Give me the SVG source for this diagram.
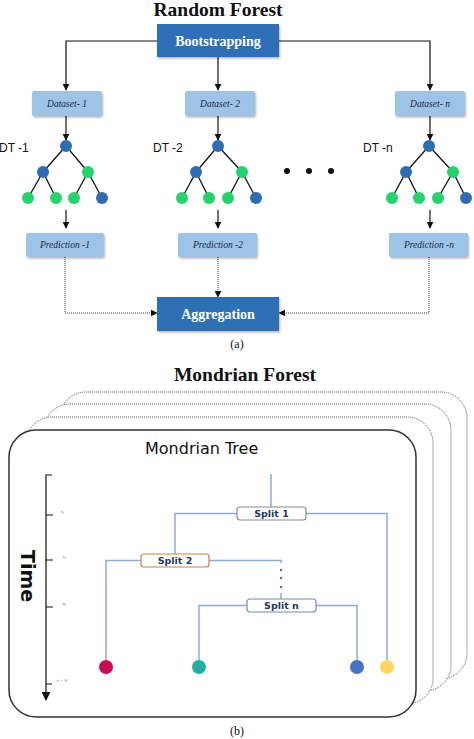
<svg xmlns="http://www.w3.org/2000/svg" width="474" height="739" viewBox="0 0 474 739">
<style>
.title{font-family:"Liberation Serif",serif;font-weight:bold;font-size:19.5px;fill:#111}
.bigbox{fill:#2f6fb6}
.bigtxt{font-family:"Liberation Serif",serif;font-weight:bold;font-size:14px;fill:#fff}
.lbox{fill:#9dc3e6}
.ltxt{font-family:"Liberation Serif",serif;font-style:italic;font-size:9.5px;fill:#1a2a40}
.dt{font-family:"Liberation Sans",Arial,sans-serif;font-size:12px;fill:#111}
.e{stroke:#111;stroke-width:1.3}
.nb{fill:#2e6db3}
.ng{fill:#22d46a}
.ln{stroke:#111;stroke-width:1.2;fill:none}
.dot{stroke:#333;stroke-width:1;stroke-dasharray:1 1;fill:none}
.card{fill:#fff;stroke:#555;stroke-width:1;stroke-dasharray:1 1}
.bl{stroke:#8eaadb;stroke-width:1.5;fill:none}
.split{font-family:"DejaVu Sans",Verdana,sans-serif;font-weight:bold;font-size:9.5px;fill:#1f3864}
.cap{font-family:"Liberation Serif",serif;font-size:12px;fill:#111}
.tk{font-family:"Liberation Serif",serif;font-style:italic;font-size:5px;fill:#555}
</style>
<defs>
<marker id="ar" viewBox="0 0 10 10" refX="9" refY="5" markerWidth="7" markerHeight="7" orient="auto" markerUnits="userSpaceOnUse"><path d="M0,0L10,5L0,10z" fill="#111"/></marker>
<marker id="ar2" viewBox="0 0 10 10" refX="9" refY="5" markerWidth="9" markerHeight="9" orient="auto" markerUnits="userSpaceOnUse"><path d="M0,0L10,5L0,10z" fill="#111"/></marker>
<filter id="sh" x="-10%" y="-10%" width="130%" height="140%"><feDropShadow dx="1" dy="1.5" stdDeviation="1" flood-color="#000" flood-opacity="0.3"/></filter>
</defs>
<rect width="474" height="739" fill="#fff"/>

<text class="title" x="218" y="16" text-anchor="middle">Random Forest</text>

<g id="connectors-a">
<path class="ln" d="M157,41H66V90" marker-end="url(#ar)"/>
<path class="ln" d="M218,57V90" marker-end="url(#ar)"/>
<path class="ln" d="M279,41H430V90" marker-end="url(#ar)"/>
<path class="ln" d="M66,116V140" marker-end="url(#ar)"/>
<path class="ln" d="M218,116V140" marker-end="url(#ar)"/>
<path class="ln" d="M430,116V140" marker-end="url(#ar)"/>
<path class="ln" d="M66,210V228" marker-end="url(#ar)"/>
<path class="ln" d="M218,210V228" marker-end="url(#ar)"/>
<path class="ln" d="M430,210V228" marker-end="url(#ar)"/>
<path class="dot" d="M65,257V313H157" marker-end="url(#ar)"/>
<path class="dot" d="M218,257V297" marker-end="url(#ar)"/>
<path class="dot" d="M429,257V313H279" marker-end="url(#ar)"/>
</g>

<g id="bootstrapping"><rect class="bigbox" x="157" y="24" width="122" height="33" filter="url(#sh)"/><text class="bigtxt" x="218" y="46" text-anchor="middle">Bootstrapping</text></g>

<g id="dataset-1"><rect class="lbox" x="32" y="91" width="70" height="25" rx="2" filter="url(#sh)"/><text class="ltxt" x="67" y="107" text-anchor="middle">Dataset- 1</text></g>
<g id="dataset-2"><rect class="lbox" x="185" y="91" width="70" height="25" rx="2" filter="url(#sh)"/><text class="ltxt" x="220" y="107" text-anchor="middle">Dataset- 2</text></g>
<g id="dataset-n"><rect class="lbox" x="395" y="91" width="70" height="25" rx="2" filter="url(#sh)"/><text class="ltxt" x="430" y="107" text-anchor="middle">Dataset- n</text></g>

<g id="tree-1">
<text class="dt" x="-1" y="152">DT -1</text>
<path class="e" d="M66,146L43,172M66,146L88,172M43,172L28,198M43,172L56,198M88,172L74,198M88,172L102,198"/>
<circle class="nb" cx="66" cy="146" r="6"/><circle class="nb" cx="43" cy="172" r="6"/><circle class="ng" cx="88" cy="172" r="6"/>
<circle class="ng" cx="28" cy="198" r="6"/><circle class="ng" cx="56" cy="198" r="6"/><circle class="ng" cx="74" cy="198" r="6"/><circle class="nb" cx="102" cy="198" r="6"/>
</g>
<g id="tree-2">
<text class="dt" x="153" y="152">DT -2</text>
<path class="e" d="M218,146L196,172M218,146L242,172M196,172L182,198M196,172L209,198M242,172L228,198M242,172L256,198"/>
<circle class="nb" cx="218" cy="146" r="6"/><circle class="nb" cx="196" cy="172" r="6"/><circle class="ng" cx="242" cy="172" r="6"/>
<circle class="ng" cx="182" cy="198" r="6"/><circle class="ng" cx="209" cy="198" r="6"/><circle class="ng" cx="228" cy="198" r="6"/><circle class="nb" cx="256" cy="198" r="6"/>
</g>
<g id="ellipsis"><circle cx="287" cy="171" r="3" fill="#111"/><circle cx="309" cy="171" r="3" fill="#111"/><circle cx="331" cy="171" r="3" fill="#111"/></g>
<g id="tree-n">
<text class="dt" x="363" y="152">DT -n</text>
<path class="e" d="M429,146L406,172M429,146L453,172M406,172L392,198M406,172L419,198M453,172L438,198M453,172L466,198"/>
<circle class="nb" cx="429" cy="146" r="6"/><circle class="nb" cx="406" cy="172" r="6"/><circle class="ng" cx="453" cy="172" r="6"/>
<circle class="ng" cx="392" cy="198" r="6"/><circle class="ng" cx="419" cy="198" r="6"/><circle class="ng" cx="438" cy="198" r="6"/><circle class="nb" cx="466" cy="198" r="6"/>
</g>

<g id="prediction-1"><rect class="lbox" x="26" y="233" width="78" height="24" rx="2" filter="url(#sh)"/><text class="ltxt" x="65" y="248" text-anchor="middle">Prediction -1</text></g>
<g id="prediction-2"><rect class="lbox" x="178" y="233" width="79" height="24" rx="2" filter="url(#sh)"/><text class="ltxt" x="218" y="248" text-anchor="middle">Prediction -2</text></g>
<g id="prediction-n"><rect class="lbox" x="389" y="233" width="79" height="24" rx="2" filter="url(#sh)"/><text class="ltxt" x="429" y="248" text-anchor="middle">Prediction -n</text></g>

<g id="aggregation"><rect class="bigbox" x="157" y="297" width="122" height="34" filter="url(#sh)"/><text class="bigtxt" x="218" y="319" text-anchor="middle">Aggregation</text></g>

<text class="cap" x="237" y="348" text-anchor="middle">(a)</text>

<text class="title" x="245" y="381" text-anchor="middle">Mondrian Forest</text>

<g id="cards">
<rect class="card" x="60" y="392" width="407" height="287" rx="26"/>
<rect class="card" x="44" y="404" width="407" height="287" rx="26"/>
<rect class="card" x="26" y="417" width="407" height="287" rx="26"/>
<rect x="9" y="430" width="407" height="287" rx="27" fill="#fff" stroke="#333" stroke-width="1.5"/>
</g>

<text x="145" y="454" font-family="'DejaVu Sans',Verdana,sans-serif" font-size="16" fill="#111">Mondrian Tree</text>

<g id="time-axis">
<path class="ln" d="M52,475H46V700" stroke-width="1.4" marker-end="url(#ar2)"/>
<path class="ln" d="M46,515H53M46,560H53M46,607H53M46,684H52" stroke-width="1.4"/>
<text class="tk" x="61" y="513">t₁</text>
<text class="tk" x="63" y="558">t₂</text>
<text class="tk" x="63" y="605">tₙ</text>
<text class="tk" x="57" y="682">t = ∞</text>
<text transform="translate(21,550) rotate(90)" font-family="'DejaVu Sans',Verdana,sans-serif" font-weight="bold" font-size="19" fill="#111">Time</text>
</g>

<g id="connectors-b">
<path class="bl" d="M271,474V507"/>
<path class="bl" d="M237,513.5H175V554"/>
<path class="bl" d="M306,513.5H387V660"/>
<path class="bl" d="M141,560.5H106V660"/>
<path class="bl" d="M209,560.5H281V563"/>
<circle cx="281" cy="570" r="1.2" fill="#4a6fa5"/><circle cx="281" cy="578" r="1.2" fill="#4a6fa5"/><circle cx="281" cy="587" r="1.2" fill="#4a6fa5"/>
<path class="bl" d="M281,593V599"/>
<path class="bl" d="M247,605.5H199V660"/>
<path class="bl" d="M316,605.5H357V660"/>
</g>

<g id="split-1"><rect x="237" y="507" width="69" height="13" rx="3" fill="#fff" stroke="#8a8a8a" stroke-width="1.2"/><text class="split" x="271.5" y="517" text-anchor="middle">Split 1</text></g>
<g id="split-2"><rect x="141" y="554" width="68" height="13" rx="3" fill="#fff" stroke="#d0803c" stroke-width="1.2"/><text class="split" x="175" y="564" text-anchor="middle">Split 2</text></g>
<g id="split-n"><rect x="247" y="599" width="69" height="13" rx="3" fill="#fff" stroke="#6d8db5" stroke-width="1.2"/><text class="split" x="281.5" y="609" text-anchor="middle">Split n</text></g>

<g id="leaf-1"><circle cx="106" cy="667" r="7" fill="#cc0a5a"/></g>
<g id="leaf-2"><circle cx="199" cy="667" r="7" fill="#1fb0a3"/></g>
<g id="leaf-3"><circle cx="357" cy="667" r="7" fill="#4472c4"/></g>
<g id="leaf-4"><circle cx="387" cy="667" r="7" fill="#ffd761"/></g>

<text class="cap" x="237" y="735" text-anchor="middle">(b)</text>
</svg>
